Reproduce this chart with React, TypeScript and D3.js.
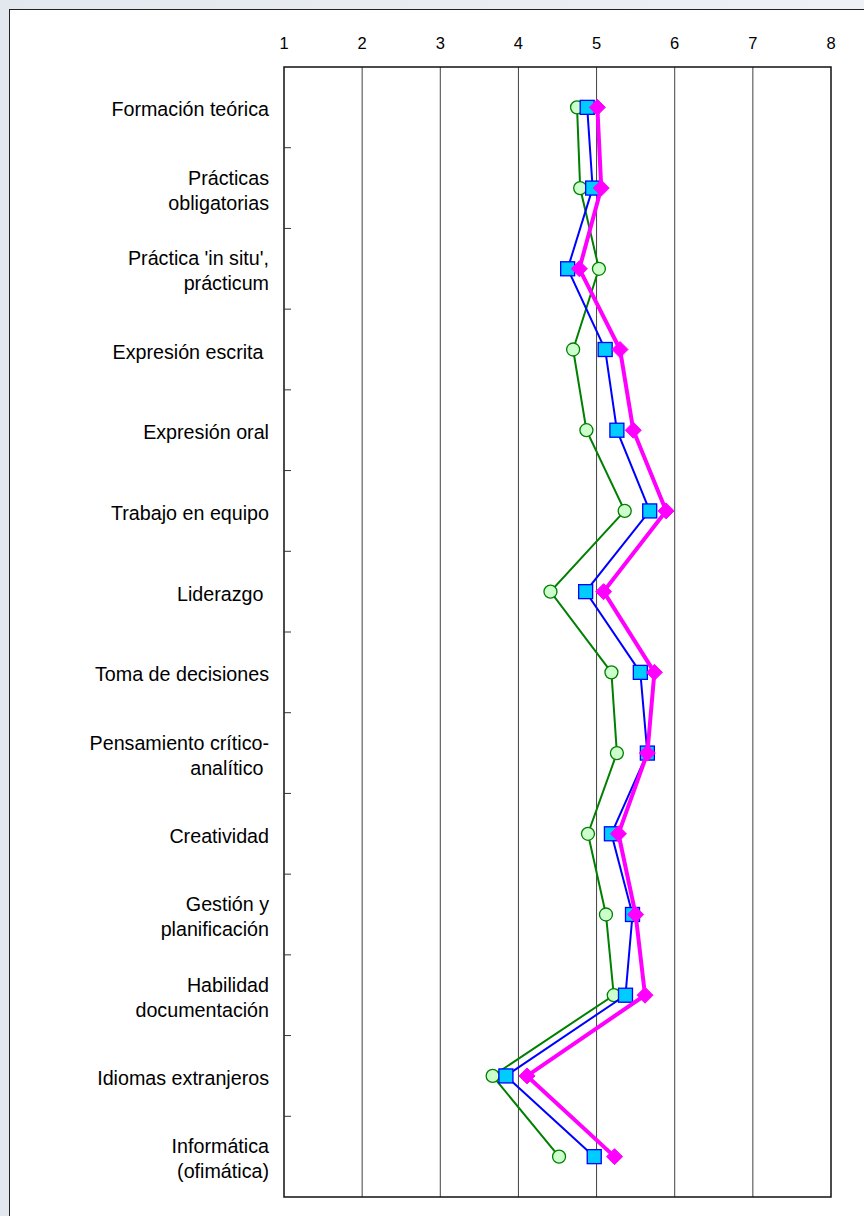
import React from "react";
import * as d3 from "d3";

const categories: string[] = [
  "Formación teórica",
  "Prácticas\nobligatorias",
  "Práctica 'in situ',\nprácticum",
  "Expresión escrita ",
  "Expresión oral",
  "Trabajo en equipo",
  "Liderazgo ",
  "Toma de decisiones",
  "Pensamiento crítico-\nanalítico ",
  "Creatividad",
  "Gestión y\nplanificación",
  "Habilidad\ndocumentación",
  "Idiomas extranjeros",
  "Informática\n(ofimática)",
];

const seriesGreen: number[] = [4.75, 4.79, 5.03, 4.7, 4.87, 5.36, 4.41, 5.19, 5.26, 4.89, 5.12, 5.22, 3.67, 4.52];
const seriesBlue: number[] = [4.88, 4.95, 4.63, 5.11, 5.26, 5.68, 4.86, 5.56, 5.65, 5.19, 5.46, 5.37, 3.84, 4.97];
const seriesMagenta: number[] = [5.01, 5.06, 4.78, 5.3, 5.47, 5.89, 5.09, 5.74, 5.65, 5.28, 5.5, 5.62, 4.11, 5.23];

const xTicks: number[] = [1, 2, 3, 4, 5, 6, 7, 8];

const W = 864;
const H = 1216;
const plot = { left: 284, top: 67, right: 831, bottom: 1197 };

export default function App() {
  const x = d3.scaleLinear().domain([1, 8]).range([plot.left, plot.right]);
  const y = d3
    .scaleBand<number>()
    .domain(categories.map((_, i) => i))
    .range([plot.top, plot.bottom])
    .padding(0);
  const yc = (i: number) => (y(i) as number) + y.bandwidth() / 2;

  const line = d3
    .line<number>()
    .x((d) => x(d))
    .y((_, i) => yc(i));

  const font = "Arial, 'Liberation Sans', sans-serif";

  return (
    <svg
      width={W}
      height={H}
      style={{ position: "absolute", left: 0, top: 0, display: "block" }}
      fontFamily={font}
    >
      <defs>
        <linearGradient id="bg" x1="0" y1="0" x2="1" y2="0">
          <stop offset="0" stopColor="#e3e8ee" />
          <stop offset="1" stopColor="#eef1f5" />
        </linearGradient>
      </defs>
      <rect x={0} y={0} width={W} height={H} fill="url(#bg)" />
      <rect x={9.5} y={9.5} width={W + 10} height={H + 10} fill="#ffffff" stroke="#222" strokeWidth={1} />

      {/* gridlines */}
      {xTicks.slice(1, -1).map((t) => (
        <line key={"g" + t} x1={x(t)} x2={x(t)} y1={plot.top} y2={plot.bottom} stroke="#404040" strokeWidth={1} />
      ))}
      {/* plot frame */}
      <rect
        x={plot.left}
        y={plot.top}
        width={plot.right - plot.left}
        height={plot.bottom - plot.top}
        fill="none"
        stroke="#111"
        strokeWidth={1.5}
      />
      {/* left ticks at band boundaries */}
      {categories.slice(1).map((_, i) => (
        <line
          key={"t" + i}
          x1={plot.left}
          x2={plot.left + 7}
          y1={y(i + 1) as number}
          y2={y(i + 1) as number}
          stroke="#333"
          strokeWidth={1}
        />
      ))}

      {/* x tick labels */}
      {xTicks.map((t) => (
        <text key={"xl" + t} x={x(t)} y={49} textAnchor="middle" fontSize={16.5} fill="#000">
          {t}
        </text>
      ))}

      {/* category labels */}
      {categories.map((c, i) => {
        const lines = c.split("\n");
        const lh = 25;
        const start = yc(i) - ((lines.length - 1) * lh) / 2;
        return (
          <text key={"c" + i} x={269} textAnchor="end" fontSize={19.7} fill="#000" style={{ whiteSpace: "pre" }}>
            {lines.map((l, j) => (
              <tspan key={j} x={269} y={start + j * lh + 9}>
                {l.replace(/ $/, "\u00a0")}
              </tspan>
            ))}
          </text>
        );
      })}

      {/* green series */}
      <path d={line(seriesGreen) || ""} fill="none" stroke="#008000" strokeWidth={2} />
      {seriesGreen.map((v, i) => (
        <circle key={"gc" + i} cx={x(v)} cy={yc(i)} r={6.5} fill="#ccffcc" stroke="#008000" strokeWidth={1.3} />
      ))}

      {/* blue series */}
      <path d={line(seriesBlue) || ""} fill="none" stroke="#0000ff" strokeWidth={2} />
      {seriesBlue.map((v, i) => (
        <rect
          key={"bs" + i}
          x={x(v) - 7}
          y={yc(i) - 7}
          width={14}
          height={14}
          fill="#00ccff"
          stroke="#0000ff"
          strokeWidth={1.3}
        />
      ))}

      {/* magenta series */}
      <path d={line(seriesMagenta) || ""} fill="none" stroke="#ff00ff" strokeWidth={4} />
      {seriesMagenta.map((v, i) => {
        const cx = x(v);
        const cy = yc(i);
        const s = 8;
        return (
          <path
            key={"md" + i}
            d={`M${cx},${cy - s}L${cx + s},${cy}L${cx},${cy + s}L${cx - s},${cy}Z`}
            fill="#ff00ff"
            stroke="#ff00ff"
            strokeWidth={1}
          />
        );
      })}
    </svg>
  );
}
